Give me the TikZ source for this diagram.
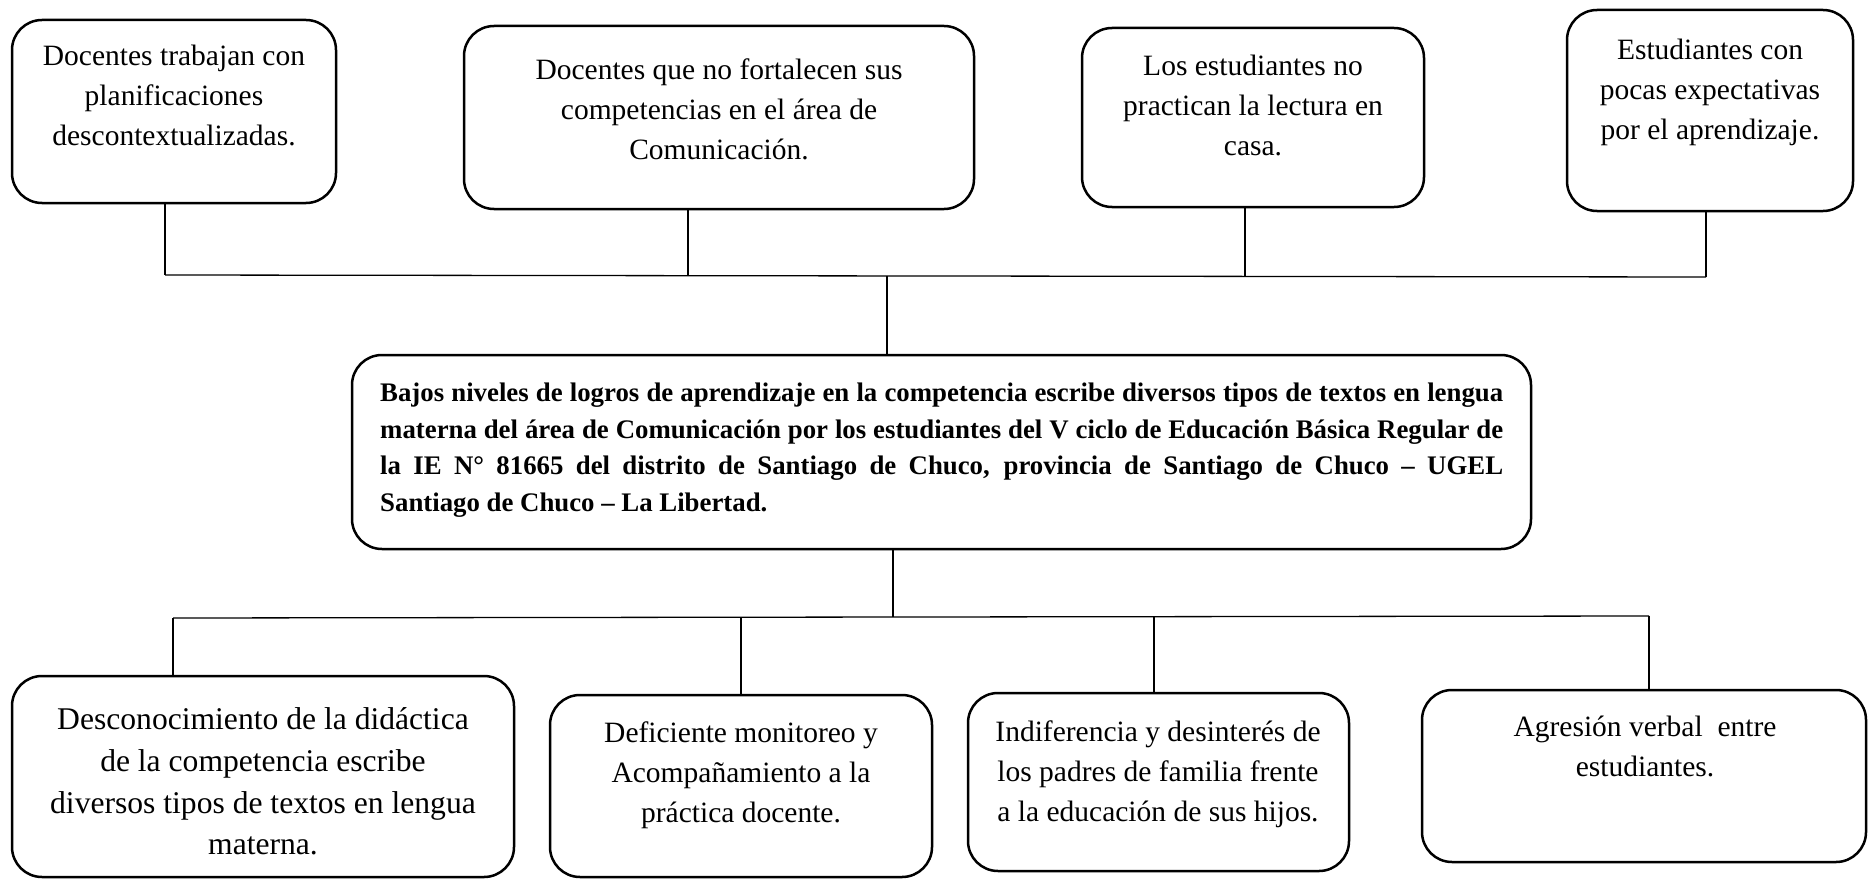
\documentclass[tikz,border=0pt]{standalone}
\usepackage{fontspec}
\setmainfont{Liberation Serif}
\usetikzlibrary{calc}
\begin{document}
\begin{tikzpicture}[x=1pt,y=-1pt,
  box/.style={draw, line width=2.5pt, rounded corners=30pt, inner sep=0pt},
  txt/.style={anchor=north, inner sep=0pt, align=center, font=\fontsize{29.5}{40}\selectfont},
  wire/.style={line width=1.3pt}]
\useasboundingbox (0,0) rectangle (1870,880);
% top boxes
\node[box, minimum width=324pt, minimum height=183pt] (t1) at (174,111.5) {};
\node[box, minimum width=510pt, minimum height=183pt] (t2) at (719,117.5) {};
\node[box, minimum width=342pt, minimum height=179pt] (t3) at (1253,117.5) {};
\node[box, minimum width=286pt, minimum height=201pt] (t4) at (1710,110.5) {};
\node[txt] (t1x) at (174,44.8) {Docentes trabajan con\\planificaciones\\descontextualizadas.};
\node[txt] (t2x) at (719,58.3) {Docentes que no fortalecen sus\\competencias en el área de\\Comunicación.};
\node[txt] (t3x) at (1253,55.3) {Los estudiantes no\\practican la lectura en\\casa.};
\node[txt] (t4x) at (1710,39.3) {Estudiantes con\\pocas expectativas\\por el aprendizaje.};
% central box
\node[box, minimum width=1179pt, minimum height=194pt] (c) at (941.5,452) {};
\node[anchor=north west, inner sep=0pt, align=left, font=\bfseries\fontsize{26.8}{36.7}\selectfont] (cx) at (380,382.5)
 {\makebox[1123pt][s]{Bajos niveles de logros de aprendizaje en la competencia escribe diversos tipos de textos en lengua}\\
  \makebox[1123pt][s]{materna del área de Comunicación por los estudiantes del V ciclo de Educación Básica Regular de}\\
  \makebox[1123pt][s]{la IE N° 81665 del distrito de Santiago de Chuco, provincia de Santiago de Chuco – UGEL}\\
  Santiago de Chuco – La Libertad.};
% bottom boxes
\node[box, minimum width=502pt, minimum height=201pt] (b1) at (263,776.5) {};
\node[box, minimum width=382pt, minimum height=182pt] (b2) at (741,786) {};
\node[box, minimum width=381pt, minimum height=178pt] (b3) at (1158.5,782) {};
\node[box, minimum width=444pt, minimum height=172pt] (b4) at (1644,776) {};
\node[txt, font=\fontsize{31.6}{41.8}\selectfont] (b1x) at (263,707.3) {Desconocimiento de la didáctica\\de la competencia escribe\\diversos tipos de textos en lengua\\materna.};
\node[txt] (b2x) at (741,721.8) {Deficiente monitoreo y\\Acompañamiento a la\\práctica docente.};
\node[txt] (b3x) at (1158,721) {Indiferencia y desinterés de\\los padres de familia frente\\a la educación de sus hijos.};
\node[txt] (b4x) at (1645,715.3) {Agresión verbal\ \ entre\\estudiantes.};
% top connectors
\coordinate (u1) at (165,275);
\coordinate (u2) at (688,276);
\coordinate (u3) at (1245,276);
\coordinate (u4) at (1706,277);
\coordinate (uc) at (887,276);
\draw[wire] (u1) -- (u4);
\draw[wire] (t1.south -| u1) -- (u1);
\draw[wire] (t2.south -| u2) -- (u2);
\draw[wire] (t3.south -| u3) -- (u3);
\draw[wire] (t4.south -| u4) -- (u4);
\draw[wire] (uc) -- (c.north -| uc);
% bottom connectors
\coordinate (d1) at (173,618);
\coordinate (d2) at (741,618);
\coordinate (d3) at (1154,617);
\coordinate (d4) at (1649,616);
\coordinate (dc) at (893,617);
\draw[wire] (d1) -- (d4);
\draw[wire] (c.south -| dc) -- (dc);
\draw[wire] (d1) -- (b1.north -| d1);
\draw[wire] (d2) -- (b2.north -| d2);
\draw[wire] (d3) -- (b3.north -| d3);
\draw[wire] (d4) -- (b4.north -| d4);
\end{tikzpicture}
\end{document}
